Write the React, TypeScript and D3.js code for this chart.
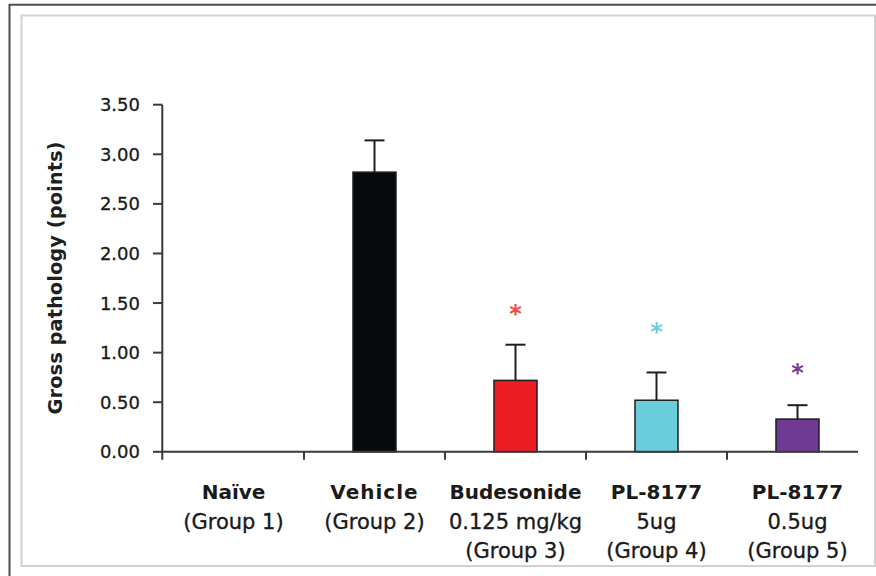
// Gross pathology bar chart with error bars
import React from "react";
import { scaleBand, scaleLinear, range } from "d3";

const groups = ["Naïve", "Vehicle", "Budesonide", "PL-8177 5ug", "PL-8177 0.5ug"];
const labelLines = [
    ["Naïve", "(Group 1)"],
    ["Vehicle", "(Group 2)"],
    ["Budesonide", "0.125 mg/kg", "(Group 3)"],
    ["PL-8177", "5ug", "(Group 4)"],
    ["PL-8177", "0.5ug", "(Group 5)"],
];
const means = [0, 2.82, 0.72, 0.52, 0.33];
const errors = [0, 0.32, 0.36, 0.28, 0.14];
const starValues = [null, null, 1.41, 1.23, 0.81];
const barColors = ["#000000", "#060a0c", "#ed1c24", "#6acddb", "#6f3a93"];
const starColors = ["", "", "#f04e3e", "#6ccfe0", "#7b3a96"];
const yTicks = range(0, 3.51, 0.5);

const width = 876;
const height = 576;
const font = "'DejaVu Sans', sans-serif";
const axisColor = "#3a3a3a";

const App = () => {
    const xScale = scaleBand<string>()
        .domain(groups)
        .range([163, 868])
        .paddingInner(0.695)
        .paddingOuter(0.3475);
    const yScale = scaleLinear().domain([0, 3.5]).range([451.8, 104.7]);
    const step = xScale.step();
    const y0 = yScale(0);

    return (
        <svg
            width={width}
            height={height}
            style={{ position: "absolute", left: 0, top: 0, background: "#fff" }}
        >
            {/* frame */}
            <line x1={9} y1={4.7} x2={width} y2={4.7} stroke="#4d4d4d" strokeWidth={2} />
            <line x1={9.5} y1={4} x2={9.5} y2={height} stroke="#4d4d4d" strokeWidth={2} />
            <rect
                x={21.5}
                y={15.5}
                width={853.5}
                height={550.5}
                fill="none"
                stroke="#d2d2d2"
                strokeWidth={2}
            />

            {/* bars */}
            {groups.map((g, i) =>
                means[i] > 0 ? (
                    <rect
                        key={g}
                        x={xScale(g)}
                        y={yScale(means[i])}
                        width={xScale.bandwidth()}
                        height={y0 - yScale(means[i])}
                        fill={barColors[i]}
                        stroke="#1e1e1e"
                        strokeWidth={1.5}
                    />
                ) : null
            )}

            {/* error bars */}
            {groups.map((g, i) => {
                if (means[i] <= 0) return null;
                const cx = (xScale(g) as number) + xScale.bandwidth() / 2;
                const top = yScale(means[i] + errors[i]);
                return (
                    <g key={g} stroke="#1e1e1e" strokeWidth={2}>
                        <line x1={cx} x2={cx} y1={yScale(means[i])} y2={top} />
                        <line x1={cx - 10} x2={cx + 10} y1={top} y2={top} />
                    </g>
                );
            })}

            {/* significance stars */}
            {groups.map((g, i) => {
                const v = starValues[i];
                if (v === null) return null;
                const cx = (xScale(g) as number) + xScale.bandwidth() / 2;
                return (
                    <text
                        key={g}
                        x={cx}
                        y={yScale(v) + 10}
                        textAnchor="middle"
                        fontFamily={font}
                        fontWeight="bold"
                        fontSize={24}
                        fill={starColors[i]}
                    >
                        *
                    </text>
                );
            })}

            {/* y axis */}
            <line x1={162.3} x2={162.3} y1={yScale(3.5)} y2={y0 + 8} stroke={axisColor} strokeWidth={2} />
            {yTicks.map((t) => (
                <g key={t}>
                    <line x1={153} x2={162.3} y1={yScale(t)} y2={yScale(t)} stroke={axisColor} strokeWidth={2} />
                    <text
                        x={140}
                        y={yScale(t) + 6.5}
                        textAnchor="end"
                        fontFamily={font}
                        fontSize={18}
                        fill="#1a1a1a"
                        stroke="#1a1a1a"
                        strokeWidth={0.3}
                    >
                        {t.toFixed(2)}
                    </text>
                </g>
            ))}
            <text
                transform={`translate(62,278) rotate(-90)`}
                textAnchor="middle"
                fontFamily={font}
                fontWeight="bold"
                fontSize={19.5}
                fill="#1f1f1f"
            >
                Gross pathology (points)
            </text>

            {/* x axis */}
            <line x1={161.3} x2={858} y1={y0} y2={y0} stroke={axisColor} strokeWidth={2} />
            {groups.slice(1).map((g) => {
                const tx = (xScale(g) as number) - (step - xScale.bandwidth()) / 2;
                return (
                    <line key={g} x1={tx} x2={tx} y1={y0} y2={y0 + 8} stroke={axisColor} strokeWidth={2} />
                );
            })}
            {groups.map((g, i) => {
                const cx = (xScale(g) as number) + xScale.bandwidth() / 2;
                return (
                    <text key={g} textAnchor="middle" fontFamily={font} fill="#1a1a1a">
                        {labelLines[i].map((line, j) => (
                            <tspan
                                key={j}
                                x={cx}
                                y={499 + j * 29.5}
                                fontSize={j === 0 ? 20 : 21}
                                fontWeight={j === 0 ? "bold" : "normal"}
                                stroke={j === 0 ? "none" : "#1a1a1a"}
                                strokeWidth={0.35}
                                letterSpacing={line === "Vehicle" ? 1 : 0}
                            >
                                {line}
                            </tspan>
                        ))}
                    </text>
                );
            })}
        </svg>
    );
};

export default App;
